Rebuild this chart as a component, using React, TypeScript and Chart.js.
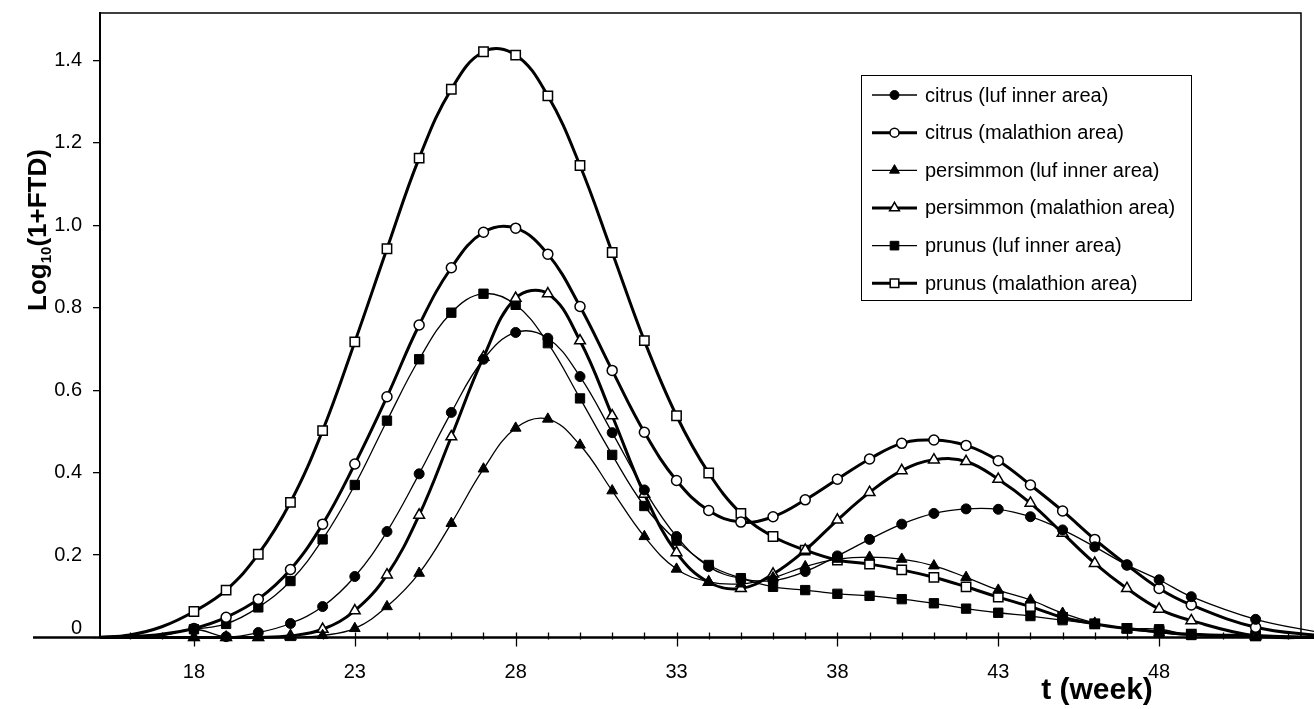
import React, { useEffect, useRef } from 'react';
import { Chart, registerables } from 'chart.js';
import { drawPoint } from 'chart.js/helpers';

Chart.register(...registerables);

// ---- data ----
const weeks = [15, 16, 17, 18, 19, 20, 21, 22, 23, 24, 25, 26, 27, 28, 29, 30, 31, 32, 33, 34, 35, 36, 37, 38, 39, 40, 41, 42, 43, 44, 45, 46, 47, 48, 49, 51, 53];
const markerFirstWeek = 18;
const markerLastWeek = 51;

const citrusLuf = [0, 0, 0.004,
  0.02, 0.002, 0.012, 0.034, 0.075, 0.148, 0.257, 0.397, 0.546, 0.675,
  0.74, 0.726, 0.633, 0.497, 0.358, 0.245, 0.172, 0.143, 0.138, 0.16,
  0.198, 0.238, 0.275, 0.301, 0.312, 0.311, 0.293, 0.261, 0.22, 0.176,
  0.14, 0.099, 0.044, 0.012];
const citrusMal = [0, 0.002, 0.008,
  0.022, 0.049, 0.093, 0.165, 0.275, 0.421, 0.584, 0.758, 0.897, 0.983,
  0.993, 0.93, 0.803, 0.648, 0.498, 0.381, 0.308, 0.28, 0.293, 0.334,
  0.384, 0.433, 0.471, 0.479, 0.466, 0.429, 0.37, 0.307, 0.238, 0.176,
  0.119, 0.079, 0.025, 0.004];
const persimmonLuf = [0, 0, 0,
  0, 0, 0, 0, 0.005, 0.022, 0.075, 0.156, 0.277, 0.409,
  0.508, 0.53, 0.467, 0.356, 0.245, 0.166, 0.135, 0.13, 0.145, 0.172,
  0.19, 0.195, 0.19, 0.174, 0.146, 0.115, 0.091, 0.059, 0.035, 0.02,
  0.012, 0.005, 0, 0];
const persimmonMal = [0, 0, 0,
  0, 0, 0, 0.004, 0.02, 0.065, 0.152, 0.297, 0.487, 0.68,
  0.823, 0.834, 0.72, 0.538, 0.348, 0.206, 0.134, 0.119, 0.154, 0.212,
  0.285, 0.352, 0.405, 0.431, 0.427, 0.384, 0.326, 0.253, 0.18, 0.119,
  0.069, 0.041, 0.004, 0];
const prunusLuf = [0, 0.002, 0.008,
  0.02, 0.033, 0.073, 0.137, 0.238, 0.37, 0.526, 0.675, 0.788, 0.834,
  0.807, 0.714, 0.58, 0.443, 0.319, 0.235, 0.176, 0.144, 0.123, 0.115,
  0.106, 0.101, 0.093, 0.083, 0.07, 0.06, 0.052, 0.042, 0.033, 0.022,
  0.02, 0.006, 0.006, 0];
const prunusMal = [0, 0.006, 0.026,
  0.063, 0.115, 0.202, 0.328, 0.502, 0.717, 0.943, 1.163, 1.33, 1.421,
  1.413, 1.314, 1.145, 0.934, 0.72, 0.538, 0.399, 0.301, 0.245, 0.212,
  0.188, 0.178, 0.164, 0.146, 0.123, 0.098, 0.075, 0.049, 0.033, 0.022,
  0.014, 0.008, 0.004, 0];

const seriesLabels = [
  'citrus (luf inner area)',
  'citrus (malathion area)',
  'persimmon (luf inner area)',
  'persimmon (malathion area)',
  'prunus (luf inner area)',
  'prunus (malathion area)',
];

const xTickLabels = [18, 23, 28, 33, 38, 43, 48];
const xMinorTicks = [16, 17, 18, 19, 20, 21, 22, 23, 24, 25, 26, 27, 28, 29, 30, 31, 32, 33, 34, 35, 36, 37, 38, 39, 40, 41, 42, 43, 44, 45, 46, 47, 48, 49, 50, 51, 52];
const yTickValues = [0, 0.2, 0.4, 0.6, 0.8, 1.0, 1.2, 1.4];
const xMin = 15.08;
const xMax = 52.41;
const yMin = 0;
const yMax = 1.515;

const FONT = "'Liberation Sans', Arial, Helvetica, sans-serif";

type Style = { pointStyle: string; fill: string; radius: number; lineWidth: number; pointBorder: number };
const styles: Style[] = [
  { pointStyle: 'circle', fill: '#000', radius: 5, lineWidth: 1.3, pointBorder: 1 },
  { pointStyle: 'circle', fill: '#fff', radius: 5, lineWidth: 3, pointBorder: 1.5 },
  { pointStyle: 'triangle', fill: '#000', radius: 6.2, lineWidth: 1.3, pointBorder: 1 },
  { pointStyle: 'triangle', fill: '#fff', radius: 6.2, lineWidth: 3, pointBorder: 1.5 },
  { pointStyle: 'rect', fill: '#000', radius: 6.6, lineWidth: 1.3, pointBorder: 1 },
  { pointStyle: 'rect', fill: '#fff', radius: 6.6, lineWidth: 3, pointBorder: 1.5 },
];
const seriesValues = [citrusLuf, citrusMal, persimmonLuf, persimmonMal, prunusLuf, prunusMal];

const framePlugin = {
  id: 'framePlugin',
  beforeDatasetsDraw(chart: any) {
    const { ctx, chartArea, scales } = chart;
    const xs = scales.x;
    const ys = scales.y;
    const y0 = ys.getPixelForValue(0);
    ctx.save();
    ctx.strokeStyle = '#000';
    ctx.lineWidth = 1.5;
    ctx.beginPath();
    ctx.moveTo(chartArea.left, chartArea.top);
    ctx.lineTo(chartArea.right, chartArea.top);
    ctx.lineTo(chartArea.right, y0);
    ctx.stroke();
    ctx.lineWidth = 2.5;
    ctx.beginPath();
    ctx.moveTo(33, y0);
    ctx.lineTo(chart.width, y0);
    ctx.stroke();
    ctx.lineWidth = 1.3;
    for (const w of xMinorTicks) {
      const px = Math.round(xs.getPixelForValue(w)) + 0.5;
      const major = xTickLabels.includes(w);
      ctx.beginPath();
      ctx.moveTo(px, y0 - 5);
      ctx.lineTo(px, y0 + (major ? 9 : 2));
      ctx.stroke();
    }
    ctx.restore();
  },
  afterDraw(chart: any) {
    const { ctx, scales } = chart;
    const ys = scales.y;
    ctx.save();
    ctx.fillStyle = '#000';
    // zero label
    ctx.font = `20px ${FONT}`;
    ctx.textAlign = 'right';
    ctx.textBaseline = 'middle';
    ctx.fillText('0', 82, ys.getPixelForValue(0) - 9);

    // x title
    ctx.font = `bold 30px ${FONT}`;
    ctx.textAlign = 'center';
    ctx.textBaseline = 'middle';
    ctx.fillText('t (week)', 1097, 691);

    // y title with subscript
    ctx.translate(37, 230);
    ctx.rotate(-Math.PI / 2);
    const mainFont = `bold 26px ${FONT}`;
    const subFont = `bold 15px ${FONT}`;
    ctx.font = mainFont;
    const w1 = ctx.measureText('Log').width;
    const w3 = ctx.measureText('(1+FTD)').width;
    ctx.font = subFont;
    const w2 = ctx.measureText('10').width;
    let x = -(w1 + w2 + w3) / 2;
    ctx.textAlign = 'left';
    ctx.textBaseline = 'alphabetic';
    ctx.font = mainFont;
    ctx.fillText('Log', x, 9);
    x += w1;
    ctx.font = subFont;
    ctx.fillText('10', x, 14);
    x += w2;
    ctx.font = mainFont;
    ctx.fillText('(1+FTD)', x, 9);
    ctx.restore();

    // legend
    ctx.save();
    const boxL = 861.5, boxT = 75.5, boxW = 330, boxH = 225;
    ctx.fillStyle = '#fff';
    ctx.fillRect(boxL, boxT, boxW, boxH);
    ctx.strokeStyle = '#000';
    ctx.lineWidth = 1;
    ctx.strokeRect(boxL, boxT, boxW, boxH);
    chart.data.datasets.forEach((ds: any, i: number) => {
      const st = styles[i];
      const yy = 95 + i * 37.66;
      ctx.strokeStyle = '#000';
      ctx.lineWidth = st.lineWidth;
      ctx.beginPath();
      ctx.moveTo(872, yy);
      ctx.lineTo(917, yy);
      ctx.stroke();
      ctx.fillStyle = st.fill;
      ctx.lineWidth = st.pointBorder;
      drawPoint(ctx, { pointStyle: st.pointStyle as any, rotation: 0, radius: st.radius - 0.5, borderWidth: st.pointBorder }, 894.5, yy);
      ctx.fillStyle = '#000';
      ctx.font = `20px ${FONT}`;
      ctx.textAlign = 'left';
      ctx.textBaseline = 'middle';
      ctx.fillText(ds.label, 925, yy + 1);
    });
    ctx.restore();
  },
};

export default function App() {
  const ref = useRef<HTMLCanvasElement | null>(null);
  useEffect(() => {
    document.body.style.margin = '0';
    const canvas = ref.current;
    if (!canvas) return;
    const datasets = seriesValues.map((vals, i) => {
      const st = styles[i];
      return {
        label: seriesLabels[i],
        data: weeks.map((w, k) => ({ x: w, y: vals[k] })),
        borderColor: '#000',
        borderWidth: st.lineWidth,
        backgroundColor: st.fill,
        pointBackgroundColor: st.fill,
        pointBorderColor: '#000',
        pointBorderWidth: st.pointBorder,
        pointStyle: st.pointStyle,
        pointRadius: (c: any) => {
          const w = weeks[c.dataIndex];
          return w >= markerFirstWeek && w <= markerLastWeek ? st.radius : 0;
        },
        pointHoverRadius: 0,
        tension: 0.4,
        fill: false,
        clip: { left: 0, top: 0, right: 14, bottom: 12 },
      };
    });
    const chart = new Chart(canvas, {
      type: 'line',
      data: { datasets },
      options: {
        animation: false,
        responsive: false,
        devicePixelRatio: 1,
        events: [],
        layout: { padding: { top: 13, right: 13, left: 0, bottom: 0 } },
        plugins: { legend: { display: false }, tooltip: { enabled: false }, title: { display: false } },
        scales: {
          x: {
            type: 'linear',
            min: xMin,
            max: xMax,
            afterBuildTicks: (s: any) => { s.ticks = xTickLabels.map((v) => ({ value: v })); },
            afterFit: (s: any) => {
              s.height = 71.5;
              s.paddingLeft = 0; s.paddingRight = 0; s.paddingTop = 0; s.paddingBottom = 0;
            },
            ticks: {
              autoSkip: false,
              maxRotation: 0,
              padding: 23,
              color: '#000',
              font: { family: FONT, size: 20 },
              callback: (v: any) => String(v),
            },
            grid: { display: false, drawTicks: false },
            border: { display: false },
          },
          y: {
            type: 'linear',
            min: yMin,
            max: yMax,
            afterBuildTicks: (s: any) => { s.ticks = yTickValues.map((v) => ({ value: v })); },
            afterFit: (s: any) => {
              s.width = 100;
              s.paddingLeft = 0; s.paddingRight = 0; s.paddingTop = 0; s.paddingBottom = 0;
            },
            ticks: {
              padding: 11,
              color: '#000',
              font: { family: FONT, size: 20 },
              callback: (v: any) => (v === 0 ? '' : Number(v).toFixed(1)),
            },
            grid: { drawOnChartArea: false, drawTicks: true, tickLength: 7, color: '#000', lineWidth: 1.3 },
            border: { display: true, color: '#000', width: 2 },
          },
        },
      },
      plugins: [framePlugin],
    } as any);
    return () => chart.destroy();
  }, []);
  return <canvas ref={ref} width={1314} height={709} style={{ display: 'block' }} />;
}
